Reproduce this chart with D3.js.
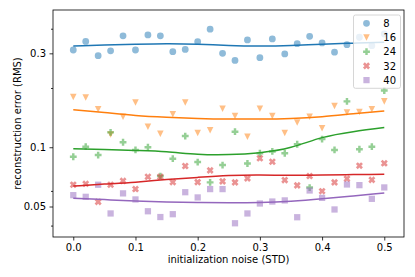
<!DOCTYPE html>
<html>
<head>
<meta charset="utf-8">
<script src="https://cdn.jsdelivr.net/npm/d3@7"></script>
<style>
  html, body { margin: 0; padding: 0; background: #fff; }
  svg { display: block; font-family: "DejaVu Sans", sans-serif; }
</style>
</head>
<body>
<svg id="chart" width="415" height="277"></svg>
<script>
// ---- data ----
const noise = [0.00,0.02,0.04,0.06,0.08,0.10,0.12,0.14,0.16,0.18,0.20,0.22,0.24,0.26,0.28,0.30,0.32,0.34,0.36,0.38,0.40,0.42,0.44,0.46,0.48,0.50];
const seriesNames = ["8","16","24","32","40"];
const err8  = [0.312,0.345,0.292,0.309,0.368,0.312,0.372,0.368,0.306,0.314,0.344,0.398,0.300,0.276,0.351,0.285,0.355,0.298,0.336,0.366,0.339,0.304,0.332,0.362,0.328,0.376];
const err16 = [0.180,0.179,0.156,0.116,0.143,0.169,0.127,0.117,0.147,0.169,0.118,0.122,0.157,0.144,0.113,0.157,0.144,0.118,0.1335,0.143,0.125,0.162,0.150,0.151,0.156,0.171];
const err24 = [0.0895,0.1007,0.0913,0.119,0.106,0.0969,0.100,0.0714,0.0875,0.114,0.0841,0.0663,0.0812,0.120,0.0827,0.0932,0.0952,0.0932,0.1036,0.0624,0.110,0.0969,0.171,0.0977,0.1007,0.194];
const err32 = [0.0645,0.0652,0.0528,0.0645,0.0675,0.0613,0.0708,0.0708,0.0665,0.0803,0.0665,0.0763,0.0671,0.0663,0.0695,0.0879,0.0844,0.0681,0.0640,0.0714,0.0598,0.0663,0.0692,0.0806,0.0683,0.0829];
const err40 = [0.0571,0.0560,0.0645,0.0461,0.0583,0.0543,0.0473,0.0442,0.0457,0.0591,0.0556,0.0613,0.0613,0.0411,0.0461,0.0518,0.0530,0.0537,0.0441,0.0603,0.0553,0.0483,0.0647,0.0642,0.0547,0.0625];
// smooth fitted trend lines, read at these noise levels
const fitX   = [0.00,0.05,0.10,0.15,0.20,0.25,0.30,0.35,0.40,0.45,0.50];
const fit8   = [0.327,0.331,0.334,0.336,0.334,0.329,0.327,0.329,0.334,0.338,0.342];
const fit16  = [0.155,0.150,0.145,0.142,0.140,0.139,0.139,0.140,0.143,0.148,0.153];
const fit24  = [0.0984,0.0975,0.0963,0.0948,0.0922,0.0918,0.0939,0.1000,0.1119,0.1200,0.1259];
const fit32  = [0.0635,0.0650,0.0665,0.0685,0.0703,0.0718,0.0722,0.0720,0.0722,0.0726,0.0730];
const fit40  = [0.0551,0.0542,0.0533,0.0527,0.0524,0.0522,0.0524,0.0532,0.0547,0.0566,0.0586];
const xTicks = [0.0,0.1,0.2,0.3,0.4,0.5];
const yTicks = [0.05,0.1,0.3];
const yMinorTicks = [0.04,0.06,0.2,0.4];
const colors = ["#1f77b4","#ff7f0e","#2ca02c","#d62728","#9467bd"];

const pointSets = [err8, err16, err24, err32, err40];
const fitSets = [fit8, fit16, fit24, fit32, fit40];

// ---- layout ----
const L = 53, R = 404, T = 10, B = 237;
const svg = d3.select("#chart");
const x = d3.scaleLinear().domain([-0.0326, 0.5317]).range([L, R]);
const y = d3.scaleLog().domain([0.035, 0.498]).range([B, T]);

// marker shapes (relative to point)
function markerPath(kind, s) {
  const p = d3.path();
  if (kind === 0) { // circle
    p.arc(0, 0, s * 0.5, 0, 2 * Math.PI);
  } else if (kind === 1) { // triangle down
    const h = s * 0.48;
    p.moveTo(-h, -h); p.lineTo(h, -h); p.lineTo(0, h); p.closePath();
  } else if (kind === 4) { // square
    const h = s * 0.46;
    p.rect(-h, -h, 2 * h, 2 * h);
  } else { // plus (2) or x (3)
    const a = s * 0.5, w = s * 0.18;
    const pts = [[-w,-a],[w,-a],[w,-w],[a,-w],[a,w],[w,w],[w,a],[-w,a],[-w,w],[-a,w],[-a,-w],[-w,-w]];
    const rot = kind === 3 ? Math.PI / 4 : 0;
    const k = kind === 3 ? 1.08 : 1;
    pts.forEach((q, i) => {
      const X = k * (q[0] * Math.cos(rot) - q[1] * Math.sin(rot));
      const Y = k * (q[0] * Math.sin(rot) + q[1] * Math.cos(rot));
      if (i === 0) p.moveTo(X, Y); else p.lineTo(X, Y);
    });
    p.closePath();
  }
  return p.toString();
}
const mSize = 6.8;

// ---- scatter + lines ----
const plot = svg.append("g");
pointSets.forEach((vals, si) => {
  plot.append("g").selectAll("path")
    .data(vals.map((v, i) => [noise[i], v]))
    .join("path")
    .attr("d", markerPath(si, mSize))
    .attr("transform", d => `translate(${x(d[0])},${y(d[1])})`)
    .attr("fill", colors[si])
    .attr("fill-opacity", 0.5);
});
const line = d3.line().x(d => x(d[0])).y(d => y(d[1])).curve(d3.curveNatural);
fitSets.forEach((vals, si) => {
  plot.append("path")
    .datum(vals.map((v, i) => [fitX[i], v]))
    .attr("d", line)
    .attr("fill", "none")
    .attr("stroke", colors[si])
    .attr("stroke-width", 1.5);
});

// ---- axes ----
const xAxis = d3.axisBottom(x).tickValues(xTicks).tickFormat(d3.format(".1f")).tickSize(3.5).tickPadding(3.5);
const gx = svg.append("g").attr("transform", `translate(0,${B})`).call(xAxis);
gx.select(".domain").remove();
const yAxis = d3.axisLeft(y).tickValues(yTicks).tickFormat(d => String(d)).tickSize(3.5).tickPadding(3.5);
const gy = svg.append("g").attr("transform", `translate(${L},0)`).call(yAxis);
gy.select(".domain").remove();
const yMinor = d3.axisLeft(y).tickValues(yMinorTicks).tickFormat("").tickSize(2);
const gym = svg.append("g").attr("transform", `translate(${L},0)`).call(yMinor);
gym.select(".domain").remove();
[gx, gy, gym].forEach(g => {
  g.selectAll("line").attr("stroke", "#000").attr("stroke-width", 0.8);
  g.selectAll("text").attr("fill", "#000").style("font-size", "10px").style("font-family", "DejaVu Sans, sans-serif");
});

// frame
svg.append("rect").attr("x", L).attr("y", T).attr("width", R - L).attr("height", B - T)
  .attr("fill", "none").attr("stroke", "#000").attr("stroke-width", 0.8);

// axis labels
svg.append("text").attr("x", (L + R) / 2).attr("y", 263).attr("text-anchor", "middle")
  .style("font-size", "10px").text("initialization noise (STD)");
svg.append("text").attr("transform", `translate(20.7,${(T + B) / 2}) rotate(-90)`).attr("text-anchor", "middle")
  .style("font-size", "10px").text("reconstruction error (RMS)");

// ---- legend ----
const lg = svg.append("g");
lg.append("rect").attr("x", 353.5).attr("y", 15).attr("width", 47).attr("height", 73.3)
  .attr("rx", 2).attr("fill", "#fff").attr("fill-opacity", 0.8)
  .attr("stroke", "#cccccc").attr("stroke-width", 0.8);
seriesNames.forEach((name, si) => {
  const cy = 23.3 + si * 14.2;
  lg.append("path").attr("d", markerPath(si, mSize))
    .attr("transform", `translate(366.5,${cy})`)
    .attr("fill", colors[si]).attr("fill-opacity", 0.5);
  lg.append("text").attr("x", 383.3).attr("y", cy).attr("dy", "0.36em")
    .style("font-size", "10px").text(name);
});
</script>
</body>
</html>
